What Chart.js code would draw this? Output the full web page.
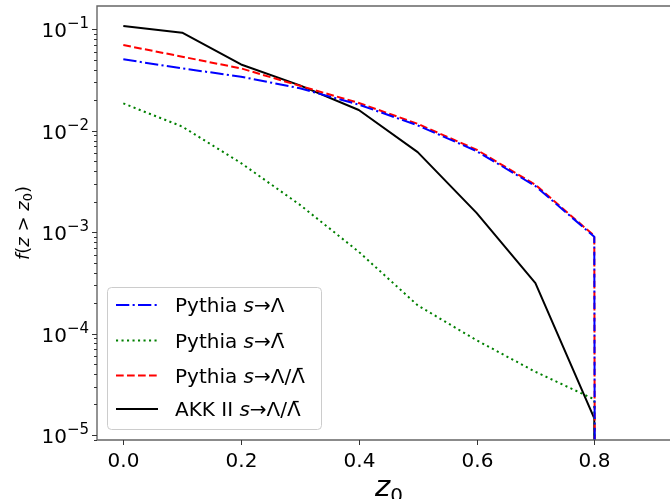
<!DOCTYPE html>
<html>
<head>
<meta charset="utf-8">
<script src="https://cdn.jsdelivr.net/npm/chart.js@4/dist/chart.umd.min.js"></script>
<style>
  html, body { margin: 0; padding: 0; background: #fff; }
  #c { display: block; }
</style>
</head>
<body>
<canvas id="c" width="670" height="499" style="width:670px;height:499px"></canvas>
<script>
// ---- data ----
const zValues          = [0.0, 0.1, 0.2, 0.3, 0.4, 0.5, 0.6, 0.7, 0.8, 0.9];
// last point is 0 (clipped on the log axis, gives the vertical drop at z0 = 0.8)
const pythiaLambda     = [0.0506, 0.0412, 0.0341, 0.0262, 0.0181, 0.0113, 0.0063, 0.00285, 0.00090, 0];
const pythiaLambdaBar  = [0.0186, 0.0110, 0.0048, 0.00186, 0.00064, 0.00019, 0.000086, 0.000042, 0.0000225, 0];
const pythiaBoth       = [0.0700, 0.0537, 0.0412, 0.0277, 0.0188, 0.0117, 0.0065, 0.00293, 0.00092, 0];
const akkBoth          = [0.108, 0.0926, 0.0450, 0.0280, 0.0160, 0.00616, 0.00155, 0.000315, 0.0000146, 0];

const xTicks      = [0.0, 0.2, 0.4, 0.6, 0.8];
const xTickLabels = ["0.0", "0.2", "0.4", "0.6", "0.8"];
const yMajorExp   = [-1, -2, -3, -4, -5];
const yTickLabelsExp = ["\u22121", "\u22122", "\u22123", "\u22124", "\u22125"];

const seriesNames = ["Pythia", "Pythia", "Pythia", "AKK II"];

const FONT = '"DejaVu Sans", "Liberation Sans", sans-serif';

function toPoints(vals) {
  return zValues.map((z, i) => ({ x: z, y: vals[i] > 0 ? vals[i] : 1e-300 }));
}

const datasets = [
  { label: "Pythia s→Λ",   data: toPoints(pythiaLambda),    borderColor: "#0000ff", borderDash: [13.3, 3.3, 2.1, 3.3] },
  { label: "Pythia s→Λ̄",  data: toPoints(pythiaLambdaBar), borderColor: "#008000", borderDash: [2.1, 3.4] },
  { label: "Pythia s→Λ/Λ̄", data: toPoints(pythiaBoth),    borderColor: "#ff0000", borderDash: [7.7, 3.3] },
  { label: "AKK II s→Λ/Λ̄", data: toPoints(akkBoth),       borderColor: "#000000", borderDash: [] }
].map(d => Object.assign(d, {
  borderWidth: 2, pointRadius: 0, fill: false, tension: 0, showLine: true,
  borderCapStyle: "butt", borderJoinStyle: "round"
}));

function drawSegs(ctx, segs, x, y) {
  let cx = x;
  segs.forEach(s => {
    ctx.font = (s.italic ? "italic " : "") + s.size + "px " + FONT;
    ctx.fillText(s.t, cx, y + (s.dy || 0));
    cx += ctx.measureText(s.t).width;
  });
  return cx;
}
function segsWidth(ctx, segs) {
  let w = 0;
  segs.forEach(s => {
    ctx.font = (s.italic ? "italic " : "") + s.size + "px " + FONT;
    w += ctx.measureText(s.t).width;
  });
  return w;
}

const decor = {
  id: "decor",
  afterDraw(chart) {
    const ctx = chart.ctx;
    const a = chart.chartArea;
    const xs = chart.scales.x, ys = chart.scales.y;
    ctx.save();
    ctx.fillStyle = "#000";
    ctx.textBaseline = "alphabetic";

    // spines (left, top, bottom)
    ctx.strokeStyle = "#666";
    ctx.lineWidth = 1.4;
    ctx.beginPath();
    ctx.moveTo(a.left, a.bottom); ctx.lineTo(a.left, a.top); ctx.lineTo(a.right + 2, a.top);
    ctx.moveTo(a.left, a.bottom); ctx.lineTo(a.right + 2, a.bottom);
    ctx.stroke();

    // x ticks + labels
    ctx.lineWidth = 1;
    ctx.strokeStyle = "#333";
    xTicks.forEach((v, i) => {
      const px = Math.round(xs.getPixelForValue(v)) + 0.5;
      ctx.beginPath(); ctx.moveTo(px, a.bottom); ctx.lineTo(px, a.bottom + 5); ctx.stroke();
      ctx.font = "20px " + FONT;
      ctx.textAlign = "center";
      ctx.fillText(xTickLabels[i], px, 466.5);
    });

    // y major + minor ticks
    yMajorExp.forEach((e, i) => {
      const py = Math.round(ys.getPixelForValue(Math.pow(10, e))) + 0.5;
      ctx.beginPath(); ctx.moveTo(a.left, py); ctx.lineTo(a.left - 5, py); ctx.stroke();
      ctx.textAlign = "left";
      const base = [{ t: "10", size: 20 }];
      const sup = [{ t: yTickLabelsExp[i], size: 15 }];
      const wb = segsWidth(ctx, base), ws = segsWidth(ctx, sup);
      const right = 89;
      drawSegs(ctx, base, right - ws - wb, py + 7.2);
      drawSegs(ctx, sup, right - ws, py - 1.5);
    });
    for (let e = -6; e <= -1; e++) {
      for (let m = 2; m <= 9; m++) {
        const v = m * Math.pow(10, e);
        if (v < ys.min || v > ys.max) continue;
        const py = Math.round(ys.getPixelForValue(v)) + 0.5;
        ctx.beginPath(); ctx.moveTo(a.left, py); ctx.lineTo(a.left - 3, py); ctx.stroke();
      }
    }

    // x axis title: z_0
    ctx.textAlign = "left";
    const xl = [{ t: "z", italic: true, size: 29 }, { t: "0", size: 20, dy: 6 }];
    drawSegs(ctx, xl, 389 - segsWidth(ctx, xl) / 2, 496);

    // y axis title: f(z > z_0), rotated
    ctx.save();
    const yl = [
      { t: "f", italic: true, size: 18 }, { t: "(", size: 18 }, { t: "z", italic: true, size: 18 },
      { t: " > ", size: 18 }, { t: "z", italic: true, size: 18 }, { t: "0", size: 13, dy: 3 }, { t: ")", size: 18 }
    ];
    ctx.translate(29, 223);
    ctx.rotate(-Math.PI / 2);
    drawSegs(ctx, yl, -segsWidth(ctx, yl) / 2, 0);
    ctx.restore();

    // legend
    const lx = 107.5, ly = 287.5, lw = 214, lh = 142, r = 4;
    ctx.beginPath();
    ctx.moveTo(lx + r, ly); ctx.lineTo(lx + lw - r, ly); ctx.arcTo(lx + lw, ly, lx + lw, ly + r, r);
    ctx.lineTo(lx + lw, ly + lh - r); ctx.arcTo(lx + lw, ly + lh, lx + lw - r, ly + lh, r);
    ctx.lineTo(lx + r, ly + lh); ctx.arcTo(lx, ly + lh, lx, ly + lh - r, r);
    ctx.lineTo(lx, ly + r); ctx.arcTo(lx, ly, lx + r, ly, r);
    ctx.closePath();
    ctx.fillStyle = "rgba(255,255,255,0.8)";
    ctx.fill();
    ctx.strokeStyle = "#cccccc";
    ctx.lineWidth = 1;
    ctx.stroke();

    const rowY = [305, 340.5, 375.5, 409];
    const targets = [
      [{ t: "Λ", size: 20 }],
      [{ t: "Λ̄", size: 20 }],
      [{ t: "Λ/Λ̄", size: 20 }],
      [{ t: "Λ/Λ̄", size: 20 }]
    ];
    chart.data.datasets.forEach((ds, i) => {
      const y = rowY[i];
      ctx.strokeStyle = ds.borderColor;
      ctx.lineWidth = 2;
      ctx.setLineDash(ds.borderDash);
      ctx.beginPath(); ctx.moveTo(116, y); ctx.lineTo(158, y); ctx.stroke();
      ctx.setLineDash([]);
      ctx.fillStyle = "#000";
      const segs = [
        { t: seriesNames[i] + " ", size: 20 },
        { t: "s", italic: true, size: 20 },
        { t: "→", size: 20 }
      ].concat(targets[i]);
      drawSegs(ctx, segs, 175, y + 7);
    });

    ctx.restore();
  }
};

new Chart(document.getElementById("c"), {
  type: "line",
  data: { datasets },
  options: {
    responsive: false,
    animation: false,
    devicePixelRatio: 1,
    layout: { padding: { left: 97, top: 6, right: 0, bottom: 59 } },
    plugins: { legend: { display: false }, tooltip: { enabled: false } },
    scales: {
      x: { type: "linear", min: -0.0447, max: 0.9286, display: false },
      y: { type: "logarithmic", min: 8.93e-6, max: 0.1698, display: false }
    }
  },
  plugins: [decor]
});
</script>
</body>
</html>
